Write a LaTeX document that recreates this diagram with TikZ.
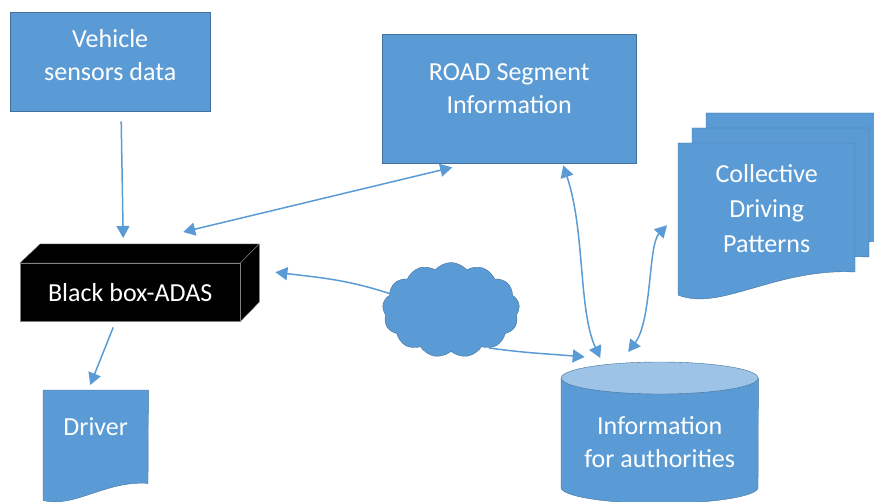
\documentclass[tikz,border=0pt]{standalone}
\usepackage{fontspec}
\setmainfont{Carlito}
\usetikzlibrary{arrows.meta,shapes.symbols,backgrounds}
\definecolor{office}{RGB}{91,155,213}
\definecolor{edge}{RGB}{65,113,156}
\definecolor{lite}{RGB}{157,195,230}
\definecolor{wire}{RGB}{91,155,213}

\begin{document}
\begin{tikzpicture}[x=1pt,y=1pt,
    every node/.style={font=\fontsize{26}{33}\selectfont},
    box/.style={draw=edge,fill=office,text=white,align=center,
      inner sep=0pt,anchor=north west},
    flow/.style={-{Triangle[length=12pt,width=13pt]},line width=1.5pt,wire},
    both/.style={flow,{Triangle[length=12pt,width=13pt]}-{Triangle[length=12pt,width=13pt]}}
  ]
  \useasboundingbox (0,0) rectangle (874,-502);

  \node[box,minimum width=200pt,text height=68pt,text depth=31pt]
    (veh) at (10,-12) {Vehicle\\sensors data};
  \node[box,minimum width=254pt,text height=79pt,text depth=50pt]
    (road) at (382,-34) {ROAD Segment\\Information};
  \node[box,fill=black,draw=gray,minimum width=220pt,
    text height=38pt,text depth=20pt]
    (bbox) at (20,-263) {Black box-ADAS};
  \node[box,draw=none,fill=none,minimum width=105pt,
    text height=45pt,text depth=65pt]
    (drv) at (43,-390) {Driver};
  \node[box,draw=none,fill=none,minimum width=177pt,
    text height=109pt,text depth=43pt,font=\fontsize{26}{35}\selectfont]
    (coll) at (678,-143) {Collective\\Driving\\Patterns};
  \node[box,draw=none,fill=none,minimum width=197pt,
    text height=105pt,text depth=20pt]
    (cyl) at (561,-362) {Information\\for authorities};
  \node[cloud,cloud puffs=13,cloud puff arc=100,aspect=1.45,fill=office,draw=edge,
    minimum width=137pt,minimum height=95pt] (cloud) at (451,-310) {};

  \begin{scope}[on background layer]
    \foreach \s in {2,1,0}
      \filldraw[fill=office,draw=edge]
        ([shift={(14*\s,15*\s)}]coll.north west) -- ++(0,-152)
        .. controls +(42,-17) and +(-80,4) .. ++(177,23) -- ++(0,129) -- cycle;
    \filldraw[fill=office,draw=edge] (drv.north west) -- (drv.south west)
      .. controls +(32,-8) and +(-43,3) .. ++(105,17) -- (drv.north east) -- cycle;
    \filldraw[fill=office,draw=edge] ([yshift=-16pt]cyl.north west) -- (cyl.south west)
      arc[start angle=180,end angle=360,x radius=98.5,y radius=16]
      -- ([yshift=-16pt]cyl.north east) -- cycle;
    \filldraw[fill=lite,draw=edge] ([yshift=-16pt]cyl.north)
      ellipse[x radius=98.5,y radius=16];
    \filldraw[fill=black,draw=gray] (bbox.north west) -- ++(20,19) -- ++(219,0)
      -- (bbox.north east) -- cycle;
    \filldraw[fill=black,draw=gray] (bbox.north east) -- ++(19,19) -- ++(0,-58)
      -- (bbox.south east) -- cycle;
  \end{scope}

  \draw[flow] ([shift={(11,-10)}]veh.south) -- ([shift={(-7,25)}]bbox.north);
  \draw[both] ([shift={(53,31)}]bbox.north) -- ([shift={(-57,-4)}]road.south);
  \draw[flow] (cloud.165) to[out=162,in=-7] ([shift={(35,20)}]bbox.east);
  \draw[flow] (cloud.-45) to[out=-8,in=175] ([shift={(-75,5)}]cyl.north);
  \draw[both] ([shift={(54,-2)}]road.south)
    .. controls +(22,-65) and +(-22,48) .. ([shift={(-59.5,4)}]cyl.north);
  \draw[both] ([shift={(-11,-6)}]coll.west)
    .. controls +(-19,-20) and +(24,32) .. ([shift={(-31.5,10)}]cyl.north);
  \draw[flow] ([shift={(-17,-6)}]bbox.south) -- ([shift={(-5.5,5)}]drv.north);
\end{tikzpicture}
\end{document}
